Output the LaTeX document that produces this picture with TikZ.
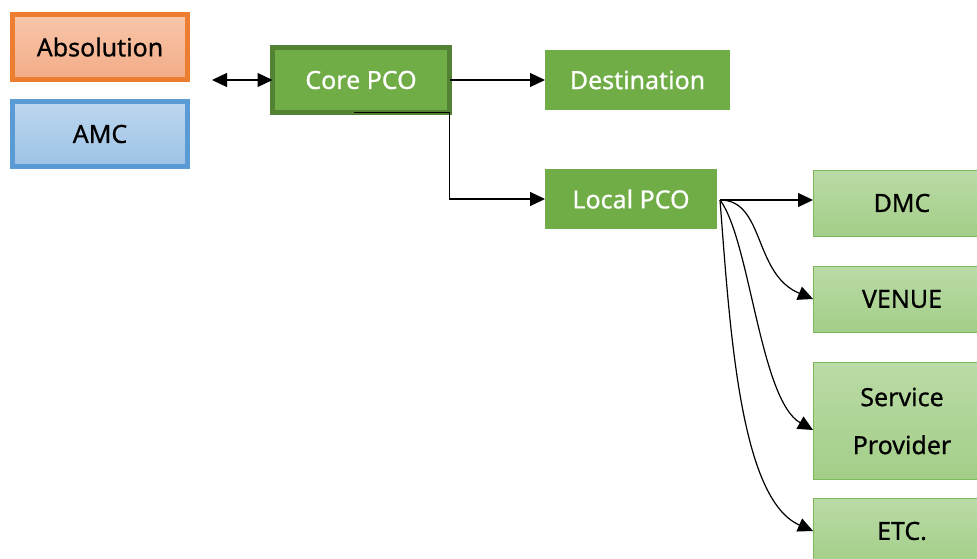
\documentclass[tikz,border=0pt]{standalone}
\usepackage{fontspec}
\setmainfont{Noto Sans}
\newfontfamily\labelfont[FakeBold=0.7]{Noto Sans}
\usepackage{tikz}
\usetikzlibrary{arrows.meta}

\definecolor{orangeline}{HTML}{ED7D31}
\definecolor{orangetop}{HTML}{F8C6AA}
\definecolor{orangebot}{HTML}{F3AC86}
\definecolor{blueline}{HTML}{5B9BD5}
\definecolor{bluetop}{HTML}{BDD7EE}
\definecolor{bluebot}{HTML}{9DC3E6}
\definecolor{pcogreen}{HTML}{70AD47}
\definecolor{coreline}{HTML}{548235}
\definecolor{leaftop}{HTML}{BADBA6}
\definecolor{leafbot}{HTML}{A3CE88}
\definecolor{leafline}{HTML}{7DB85A}

\tikzset{
    box/.style={rectangle, inner sep=0pt, outer sep=0pt, align=center,
        minimum width=175pt, minimum height=65pt,
        font=\labelfont\fontsize{25}{48}\selectfont},
    orangebox/.style={box, draw=orangeline, line width=5pt,
        top color=orangetop, bottom color=orangebot},
    bluebox/.style={box, draw=blueline, line width=5pt,
        top color=bluetop, bottom color=bluebot},
    corebox/.style={box, draw=coreline, line width=5pt, fill=pcogreen,
        text=white, minimum width=177pt},
    greenbox/.style={box, fill=pcogreen, text=white, minimum height=60pt},
    leafbox/.style={box, draw=leafline, line width=1pt,
        top color=leaftop, bottom color=leafbot,
        minimum width=178pt, minimum height=66pt},
}

\begin{document}
\begin{tikzpicture}[x=1pt, y=-1pt, line width=1.2pt,
        >={Triangle[length=15pt, width=14pt]}]
    \useasboundingbox (0,0) rectangle (977,559);
    \clip (0,0) rectangle (977,559);

    \node[orangebox](absolution)            at (100,47)    {Absolution};
    \node[bluebox](amc)                     at (100,134)   {AMC};
    \node[corebox](core)                    at (361,80)    {Core PCO};
    \node[greenbox, minimum width=185pt](destination) at (637.5,80) {Destination};
    \node[greenbox, minimum width=172pt](local)       at (631,199)  {Local PCO};
    \node[leafbox](dmc)                     at (902,203)   {DMC};
    \node[leafbox](venue)                   at (902,299)   {VENUE};
    \node[leafbox, minimum height=117pt](service) at (902,421) {Service\\Provider};
    \node[leafbox](etc)                     at (902,531)   {ETC.};

    \coordinate (link) at (212,80);
    \coordinate (fan)  at ([xshift=3pt, yshift=-1pt]local.east);

    \path
        (link)
            edge [<->] (core.west)
        (core)
            edge [->] (destination)
        ;
    \draw[->] ([xshift=-7pt]core.south) -- (core.south east) |- (local.west);

    % fan out from Local PCO
    \draw[->] (fan) -- (fan -| dmc.west);
    \draw[->] (fan) .. controls +(45,0) and +(-60,-25) .. (venue.west);
    \draw[->] (fan) .. controls +(30,40) and +(-53,-30) .. ([yshift=-9pt]service.west);
    \draw[->] (fan) .. controls +(10,130) and +(-73,-32) .. (etc.west);
\end{tikzpicture}
\end{document}
